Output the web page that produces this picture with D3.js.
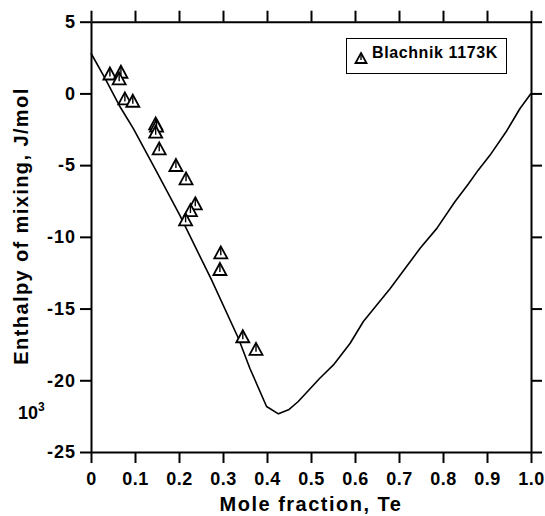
<!DOCTYPE html>
<html>
<head>
<meta charset="utf-8">
<script src="https://cdn.jsdelivr.net/npm/d3@7/dist/d3.min.js"></script>
<style>
  html, body { margin: 0; padding: 0; background: #fff; }
  svg { display: block; }
  text { font-family: "Liberation Sans", Arial, sans-serif; font-weight: bold; fill: #000; }
</style>
</head>
<body>
<svg id="chart" width="545" height="516"></svg>
<script>
// Axis ticks
const xTickValues = [0, 0.1, 0.2, 0.3, 0.4, 0.5, 0.6, 0.7, 0.8, 0.9, 1.0];
const xTickLabels = ["0", "0.1", "0.2", "0.3", "0.4", "0.5", "0.6", "0.7", "0.8", "0.9", "1.0"];
const yTickValues = [5, 0, -5, -10, -15, -20, -25];
const yTickLabels = ["5", "0", "-5", "-10", "-15", "-20", "-25"];

// Calculated enthalpy of mixing (10^3 J/mol) vs mole fraction Te
const calcX = [0, 0.032, 0.066, 0.096, 0.15, 0.202, 0.229, 0.274, 0.335, 0.361, 0.399, 0.426, 0.449, 0.471, 0.52, 0.551, 0.589, 0.619, 0.68, 0.748, 0.786, 0.827, 0.858, 0.88, 0.907, 0.945, 0.975, 1.0];
const calcY = [2.8, 1.05, -0.93, -2.44, -5.5, -8.5, -10.2, -13.0, -17.07, -19.16, -21.83, -22.34, -22.06, -21.48, -19.86, -18.93, -17.42, -15.9, -13.6, -10.8, -9.41, -7.55, -6.3, -5.35, -4.3, -2.6, -1.05, 0];

// Blachnik 1173K measurements
const blachnikX = [0.043, 0.068, 0.064, 0.077, 0.095, 0.147, 0.149, 0.147, 0.155, 0.193, 0.216, 0.237, 0.226, 0.215, 0.295, 0.293, 0.345, 0.375];
const blachnikY = [1.39, 1.51, 1.05, -0.35, -0.51, -2.09, -2.25, -2.67, -3.83, -4.99, -5.92, -7.66, -8.13, -8.78, -11.08, -12.24, -16.93, -17.81];

const svg = d3.select("#chart");
const plotLeft = 91, plotRight = 531, plotTop = 21.7, plotBottom = 452;

const x = d3.scaleLinear().domain([0, 1]).range([plotLeft, plotRight]);
const y = d3.scaleLinear().domain([-25, 5]).range([plotBottom, plotTop]);

const tickLen = 11;

function styleAxis(g) {
  g.selectAll("path.domain").attr("stroke", "#000").attr("stroke-width", 2);
  g.selectAll(".tick line").attr("stroke", "#000").attr("stroke-width", 2);
  g.selectAll(".tick text").style("font-size", "18px").style("font-weight", "bold")
    .style("font-family", '"Liberation Sans", Arial, sans-serif').attr("fill", "#000");
}

// Bottom axis
svg.append("g")
  .attr("transform", `translate(0,${plotBottom})`)
  .call(d3.axisBottom(x).tickValues(xTickValues)
    .tickFormat((d, i) => xTickLabels[i])
    .tickSize(tickLen).tickSizeOuter(0).tickPadding(9))
  .call(styleAxis)
  .call(g => g.selectAll(".tick text").style("letter-spacing", "0.5px"));

// Top axis (ticks only)
svg.append("g")
  .attr("transform", `translate(0,${plotTop})`)
  .call(d3.axisTop(x).tickValues(xTickValues).tickFormat("")
    .tickSize(tickLen).tickSizeOuter(0))
  .call(styleAxis);

// Left axis
svg.append("g")
  .attr("transform", `translate(${plotLeft},0)`)
  .call(d3.axisLeft(y).tickValues(yTickValues)
    .tickFormat((d, i) => yTickLabels[i])
    .tickSize(tickLen).tickSizeOuter(0).tickPadding(4))
  .call(styleAxis)
  .call(g => g.selectAll(".tick text").style("letter-spacing", "1px"));

// Right axis (ticks only)
svg.append("g")
  .attr("transform", `translate(${plotRight},0)`)
  .call(d3.axisRight(y).tickValues(yTickValues).tickFormat("")
    .tickSize(tickLen).tickSizeOuter(0))
  .call(styleAxis);

// Calculated curve
const line = d3.line().x((d, i) => x(calcX[i])).y((d, i) => y(calcY[i]));
svg.append("path")
  .datum(calcX)
  .attr("d", line)
  .attr("fill", "none")
  .attr("stroke", "#000")
  .attr("stroke-width", 1.6)
  .attr("stroke-linejoin", "round");

// Open triangle marker with an inner stem
function triangle(g, cx, cy, w, h) {
  const half = w / 2;
  g.append("path")
    .attr("d", `M${cx},${cy - h / 2} L${cx + half},${cy + h / 2} L${cx - half},${cy + h / 2} Z`)
    .attr("fill", "#fff").attr("stroke", "#000").attr("stroke-width", 1.8)
    .attr("stroke-linejoin", "miter");
  g.append("line")
    .attr("x1", cx).attr("x2", cx)
    .attr("y1", cy - h / 2 + 1).attr("y2", cy + h / 2 - 3)
    .attr("stroke", "#000").attr("stroke-width", 1.4);
}

const pts = svg.append("g");
blachnikX.forEach((bx, i) => triangle(pts, x(bx), y(blachnikY[i]), 13, 12));

// Legend
const lg = svg.append("g");
lg.append("rect")
  .attr("x", 346.5).attr("y", 38.5).attr("width", 160).attr("height", 35)
  .attr("fill", "#fff").attr("stroke", "#000").attr("stroke-width", 1);
triangle(lg, 361, 58, 11, 10);
lg.append("text")
  .attr("x", 372).attr("y", 57.5)
  .style("font-size", "16px").style("letter-spacing", "0.6px")
  .text("Blachnik 1173K");

// Axis titles
svg.append("text")
  .attr("x", (plotLeft + plotRight) / 2).attr("y", 511)
  .attr("text-anchor", "middle")
  .style("font-size", "20px").style("letter-spacing", "1.5px")
  .text("Mole fraction, Te");

svg.append("text")
  .attr("transform", `translate(28,226) rotate(-90)`)
  .attr("text-anchor", "middle")
  .style("font-size", "20px").style("letter-spacing", "1.4px")
  .text("Enthalpy of mixing, J/mol");

// Unit multiplier
const mult = svg.append("text").attr("x", 18).attr("y", 419).style("font-size", "18px");
mult.append("tspan").text("10");
mult.append("tspan").attr("dy", -8).style("font-size", "12px").text("3");
</script>
</body>
</html>
